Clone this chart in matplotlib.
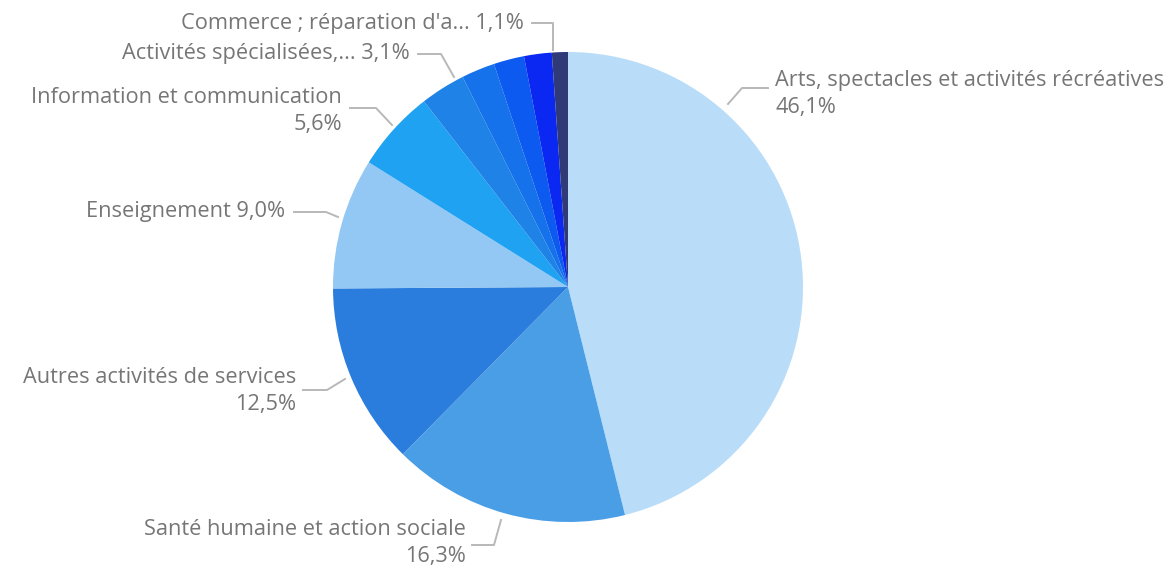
import matplotlib
matplotlib.use("Agg")
import matplotlib.pyplot as plt

# données (part en %)
categories = [
    "Arts, spectacles et activités récréatives",
    "Santé humaine et action sociale",
    "Autres activités de services",
    "Enseignement",
    "Information et communication",
    "Activités spécialisées,...",
    "",
    "",
    "",
    "Commerce ; réparation d'a...",
]
shares = [46.1, 16.3, 12.5, 9.0, 5.6, 3.1, 2.3, 2.1, 1.9, 1.1]
colors = [
    "#b9ddf8", "#4a9ee6", "#2a7ddc", "#93c8f5", "#1fa2f2",
    "#1e82e6", "#1672ea", "#0c5af0", "#0a28f2", "#303a78",
]

W, H = 1173, 568
CX, CY, R = 568, 287, 235  # centre et rayon du camembert en pixels


def px(x, y):
    return ((x - CX) / R, (CY - y) / R)


def pct(v):
    return f"{v:.1f}".replace(".", ",") + "%"


# position des étiquettes (pixels) : texte, alignement, deux lignes ?, ligne de rappel
layout = {
    0: ((775, 94), "left", True, [(728, 104), (742, 88), (768, 88)]),
    1: ((466, 543), "right", True, [(501, 520), (494, 545), (472, 545)]),
    2: ((296, 391), "right", True, [(345, 379), (327, 390), (303, 390)]),
    3: ((285, 212), "right", False, [(338, 217), (326, 212), (294, 212)]),
    4: ((342, 111), "right", True, [(392, 125), (376, 108), (350, 108)]),
    5: ((410, 54), "right", False, [(454, 77), (441, 54), (418, 54)]),
    9: ((524, 23), "right", False, [(553, 50), (553, 23), (532, 23)]),
}

fig = plt.figure(figsize=(W / 100, H / 100), dpi=100)
ax = fig.add_axes([0, 0, 1, 1])
ax.pie(shares, colors=colors, startangle=90, counterclock=False,
       radius=1, center=(0, 0), wedgeprops=dict(linewidth=0))
ax.set_xlim(-CX / R, (W - CX) / R)
ax.set_ylim((CY - H) / R, CY / R)
ax.set_aspect("equal")
ax.axis("off")

for i, (pos, ha, two_lines, line) in layout.items():
    name = categories[i]
    if two_lines:
        txt = f"{name}\n{pct(shares[i])}"
    else:
        txt = f"{name} {pct(shares[i])}"
    x, y = px(*pos)
    ax.text(x, y, txt, ha=ha, va="center", multialignment=ha,
            fontsize=15.7, color="#767676", family="Open Sans", linespacing=1.35)
    pts = [px(*p) for p in line]
    ax.plot([p[0] for p in pts], [p[1] for p in pts], color="#b8b8b8", lw=1.4)

fig.savefig("out.png", dpi=100)
